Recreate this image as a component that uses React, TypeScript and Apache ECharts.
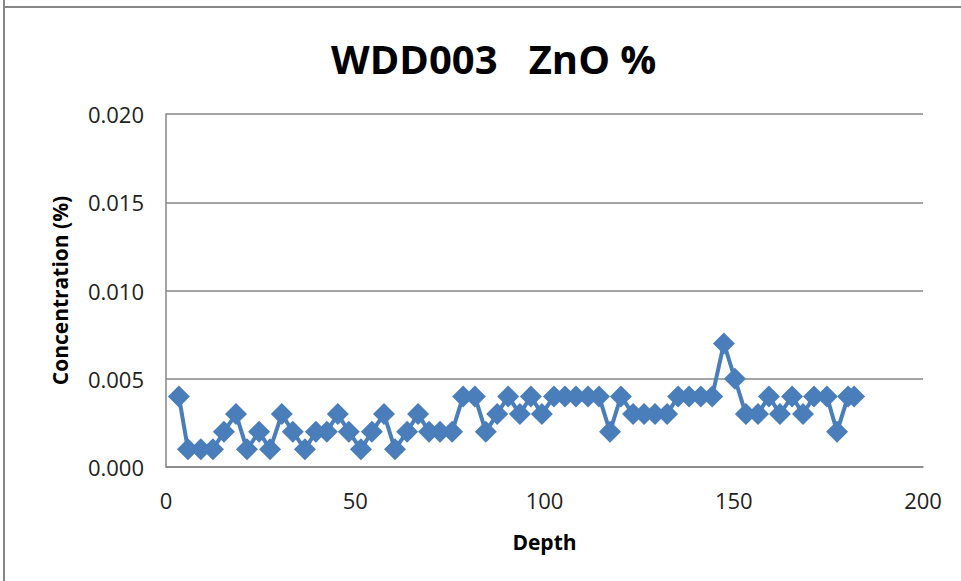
import React, { useEffect, useRef } from "react";
import * as echarts from "echarts";

// Depth (m) of each assay interval
const depths: number[] = [
  3.4, 5.8, 9.2, 12.4, 15.3, 18.5, 21.4, 24.6, 27.5, 30.6,
  33.5, 36.7, 39.6, 42.5, 45.4, 48.3, 51.5, 54.4, 57.6, 60.5,
  63.7, 66.6, 69.5, 72.4, 75.6, 78.5, 81.6, 84.5, 87.5, 90.4,
  93.5, 96.4, 99.3, 102.5, 105.4, 108.3, 111.5, 114.4, 117.3, 120.2,
  123.4, 126.3, 129.2, 132.4, 135.3, 138.2, 141.3, 144.3, 147.4, 150.3,
  153.2, 156.4, 159.3, 162.2, 165.4, 168.3, 171.2, 174.6, 177.3, 180.2,
  181.8,
];

// ZnO concentration (%) at each depth
const znoPct: number[] = [
  0.004, 0.001, 0.001, 0.001, 0.002, 0.003, 0.001, 0.002, 0.001, 0.003,
  0.002, 0.001, 0.002, 0.002, 0.003, 0.002, 0.001, 0.002, 0.003, 0.001,
  0.002, 0.003, 0.002, 0.002, 0.002, 0.004, 0.004, 0.002, 0.003, 0.004,
  0.003, 0.004, 0.003, 0.004, 0.004, 0.004, 0.004, 0.004, 0.002, 0.004,
  0.003, 0.003, 0.003, 0.003, 0.004, 0.004, 0.004, 0.004, 0.007, 0.005,
  0.003, 0.003, 0.004, 0.003, 0.004, 0.003, 0.004, 0.004, 0.002, 0.004,
  0.004,
];

const chartTitle = "WDD003   ZnO %";
const xAxisName = "Depth";
const yAxisName = "Concentration (%)";

const FONT = "'Open Sans', 'Noto Sans', sans-serif";
const GRAY = "#868686";
const BLUE = "#4a7ebb";

export default function App() {
  const ref = useRef<HTMLDivElement>(null);

  useEffect(() => {
    if (!ref.current) return;
    const chart = echarts.init(ref.current, null, { renderer: "svg" });
    const points = depths.map((d, i) => [d, znoPct[i]]);

    chart.setOption({
      animation: false,
      backgroundColor: "#ffffff",
      title: {
        text: chartTitle,
        left: 326,
        top: 33,
        textStyle: {
          fontFamily: FONT,
          fontWeight: "bold",
          fontSize: 40,
          color: "#000000",
        },
      },
      graphic: [
        {
          type: "line",
          shape: { x1: 4, y1: 0, x2: 4, y2: 581 },
          style: { stroke: GRAY, lineWidth: 2 },
        },
        {
          type: "line",
          shape: { x1: 4, y1: 7, x2: 961, y2: 7 },
          style: { stroke: GRAY, lineWidth: 2 },
        },
      ],
      grid: {
        left: 166,
        right: 38,
        top: 114,
        bottom: 114,
        containLabel: false,
      },
      xAxis: {
        type: "value",
        min: 0,
        max: 200,
        interval: 50,
        name: xAxisName,
        nameLocation: "middle",
        nameGap: 64,
        nameTextStyle: {
          fontFamily: FONT,
          fontWeight: "bold",
          fontSize: 21,
          color: "#000000",
        },
        axisLine: { show: true, lineStyle: { color: GRAY, width: 1.5 } },
        axisTick: { show: false },
        splitLine: { show: false },
        axisLabel: {
          fontFamily: FONT,
          fontSize: 22,
          color: "#222222",
          margin: 22,
        },
      },
      yAxis: {
        type: "value",
        min: 0,
        max: 0.02,
        interval: 0.005,
        name: yAxisName,
        nameLocation: "middle",
        nameGap: 96,
        nameTextStyle: {
          fontFamily: FONT,
          fontWeight: "bold",
          fontSize: 21,
          color: "#000000",
        },
        axisLine: { show: true, lineStyle: { color: GRAY, width: 1.5 } },
        axisTick: { show: false },
        splitLine: { show: true, lineStyle: { color: GRAY, width: 1.5 } },
        axisLabel: {
          fontFamily: FONT,
          fontSize: 22,
          color: "#222222",
          margin: 22,
          formatter: (v: number) => v.toFixed(3),
        },
      },
      series: [
        {
          type: "line",
          data: points,
          symbol: "diamond",
          symbolSize: 22,
          showSymbol: true,
          lineStyle: { color: BLUE, width: 4 },
          itemStyle: { color: BLUE },
          clip: false,
        },
      ],
    });

    return () => chart.dispose();
  }, []);

  return (
    <div
      ref={ref}
      style={{ position: "fixed", left: 0, top: 0, width: 961, height: 581 }}
    />
  );
}
